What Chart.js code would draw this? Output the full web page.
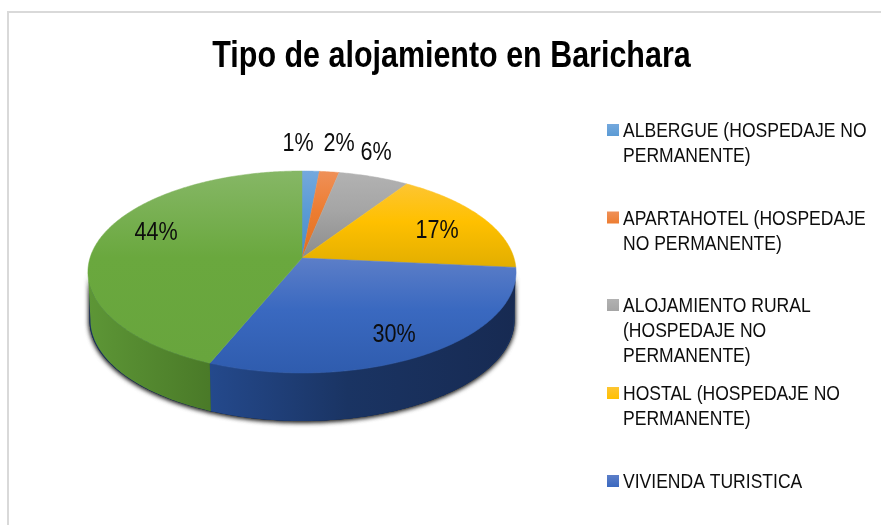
<!DOCTYPE html>
<html><head><meta charset="utf-8">
<style>html,body{margin:0;padding:0;background:#fff}#w{width:881px;height:525px;position:relative}</style>
<script src="https://cdn.jsdelivr.net/npm/chart.js@4/dist/chart.umd.min.js"></script>
</head><body><div id="w"><canvas id="c" width="881" height="525"></canvas></div>
<script>
const categories = ["ALBERGUE (HOSPEDAJE NO PERMANENTE)","APARTAHOTEL (HOSPEDAJE NO PERMANENTE)","ALOJAMIENTO RURAL (HOSPEDAJE NO PERMANENTE)","HOSTAL (HOSPEDAJE NO PERMANENTE)","VIVIENDA TURISTICA","OTROS"];
const values = [1.49, 1.7, 6.1, 17.2, 29.7, 43.81];
const legendLines = [["ALBERGUE (HOSPEDAJE NO","PERMANENTE)"],["APARTAHOTEL (HOSPEDAJE","NO PERMANENTE)"],["ALOJAMIENTO RURAL","(HOSPEDAJE NO","PERMANENTE)"],["HOSTAL (HOSPEDAJE NO","PERMANENTE)"],["VIVIENDA TURISTICA"]];
const titleText = "Tipo de alojamiento en Barichara";
const baseColors = ["#5b9bd5","#ed7d31","#a5a5a5","#ffc000","#3a69c0","#6aa83e"];

// styling / layout (not data)
const topShades = ["#74a8dd","#ef9058","#b2b2b2","#fdc532","#5c7ec8","#86b766"];
const lowShades = ["#4a8ccb","#e07020","#8c8c8c","#e2ae00","#2f5cae","#68a53d"];
const wallLeft = ["#5b9bd5","#ed7d31","#a5a5a5","#d0a000","#24498c","#5d9636"];
const wallRight = ["#5b9bd5","#ed7d31","#a5a5a5","#d0a000","#172a52","#4a7a28"];
const labelAt = [[298,144],[339,144],[376,153],[437,231],[394,335],[156,233]];
const legendY = [137,224.5,312,400,488];
const FONT = '"Liberation Sans",Arial,sans-serif';
const PIE = {cx:302, cy:258, A:212, p:99.06, c:-0.1386, depth:48, Abottom:209.5};

function pt(a, A, dy){
  const u=Math.cos(a), v=Math.sin(a), w=1+PIE.c*v;
  return [PIE.cx + (A||PIE.A)*u/w, PIE.cy + PIE.p*v/w + (dy||0)];
}
function trace(ctx, a0, a1, A, dy, first){
  const n=Math.max(2,Math.ceil(Math.abs(a1-a0)/0.01));
  for(let i=0;i<=n;i++){
    const q=pt(a0+(a1-a0)*i/n,A,dy);
    if(i===0&&first) ctx.moveTo(q[0],q[1]); else ctx.lineTo(q[0],q[1]);
  }
}
function narrowText(ctx,t,x,y,sx){
  ctx.save();ctx.translate(x,y);ctx.scale(sx,1);ctx.fillText(t,0,0);ctx.restore();
}
const visStart = Math.asin(-PIE.c), visEnd = Math.PI - Math.asin(-PIE.c);

const pie3d = {
  id:'pie3d',
  beforeDraw(chart){
    const ctx=chart.ctx;
    ctx.save();
    ctx.fillStyle='#fff';ctx.fillRect(0,0,881,525);
    ctx.strokeStyle='#d9d9d9';ctx.lineWidth=2;
    ctx.beginPath();ctx.moveTo(881,12);ctx.lineTo(8,12);ctx.lineTo(8,525);ctx.stroke();
    ctx.restore();
  },
  beforeDatasetDraw(chart,args){
    const ctx=chart.ctx, arcs=chart.getDatasetMeta(args.index).data;
    ctx.save();
    // shadow under the wall
    ctx.save();
    ctx.shadowColor='rgba(0,0,0,0.75)';ctx.shadowBlur=5;ctx.shadowOffsetY=1;
    ctx.fillStyle='#1a3463';
    for(let k=0;k<2;k++){
      ctx.beginPath();trace(ctx,visStart,visEnd,PIE.Abottom+1,PIE.depth,true);
      trace(ctx,visEnd,visStart,PIE.Abottom+1,0,false);ctx.closePath();ctx.fill();
    }
    ctx.restore();
    // wall
    arcs.forEach((arc,i)=>{
      const a0=Math.max(arc.startAngle,visStart), a1=Math.min(arc.endAngle,visEnd);
      if(a1<=a0) return;
      const L=pt(a1,PIE.A), R=pt(a0,PIE.A);
      const g=ctx.createLinearGradient(L[0],0,R[0],0);
      g.addColorStop(0,wallLeft[i]);g.addColorStop(1,wallRight[i]);
      if(i===4){g.addColorStop(0.45,'#1a3463');}
      ctx.fillStyle=g;
      ctx.beginPath();trace(ctx,a0,a1,PIE.A,0,true);trace(ctx,a1,a0,PIE.Abottom,PIE.depth,false);ctx.closePath();ctx.fill();
    });
    // top surface
    arcs.forEach((arc,i)=>{
      let ymin=PIE.cy,ymax=PIE.cy;
      for(let t=0;t<=40;t++){const q=pt(arc.startAngle+(arc.endAngle-arc.startAngle)*t/40);ymin=Math.min(ymin,q[1]);ymax=Math.max(ymax,q[1]);}
      const g=ctx.createLinearGradient(0,ymin,0,ymax);
      g.addColorStop(0,topShades[i]);
      g.addColorStop(0.45,baseColors[i]);
      g.addColorStop(1,lowShades[i]);
      ctx.fillStyle=g;ctx.strokeStyle=g;ctx.lineWidth=0.5;
      ctx.beginPath();ctx.moveTo(PIE.cx,PIE.cy);trace(ctx,arc.startAngle,arc.endAngle,PIE.A,0,false);ctx.closePath();ctx.fill();ctx.stroke();
    });
    ctx.restore();
    return false;
  },
  afterDraw(chart){
    const ctx=chart.ctx;
    ctx.save();
    ctx.fillStyle='#000';ctx.textAlign='center';ctx.textBaseline='alphabetic';
    ctx.font='bold 36px '+FONT;
    narrowText(ctx,titleText,451.5,67,0.846);
    const total=values.reduce((s,v)=>s+v,0);
    ctx.fillStyle='#0d0d0d';
    ctx.textBaseline='middle';ctx.textAlign='center';
    ctx.font='26px '+FONT;
    values.forEach((v,i)=>narrowText(ctx,Math.round(v/total*100)+'%',labelAt[i][0],labelAt[i][1],0.83));
    ctx.textAlign='left';ctx.textBaseline='alphabetic';
    ctx.font='21px '+FONT;
    legendLines.forEach((lines,i)=>{
      const b=legendY[i];
      const g=ctx.createLinearGradient(0,b-13,0,b-1);
      g.addColorStop(0,topShades[i]);g.addColorStop(1,baseColors[i]);
      ctx.fillStyle=g;ctx.fillRect(607,b-13,12,12);
      ctx.fillStyle='#0d0d0d';
      lines.forEach((t,j)=>narrowText(ctx,t,623,b+j*25,0.835));
    });
    ctx.restore();
  }
};

new Chart(document.getElementById('c'),{
  type:'pie',
  data:{labels:categories,datasets:[{data:values,backgroundColor:baseColors,borderWidth:0}]},
  options:{
    responsive:false,animation:false,
    plugins:{legend:{display:false},tooltip:{enabled:false},title:{display:false}}
  },
  plugins:[pie3d]
});
</script></body></html>
